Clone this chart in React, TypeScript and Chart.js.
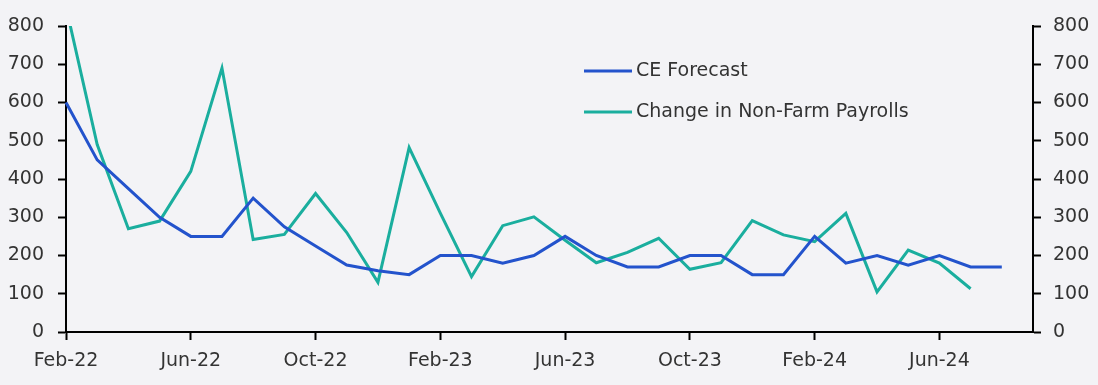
import React, { useEffect, useRef } from "react";
import { Chart, registerables } from "chart.js";

Chart.register(...registerables);

const months: string[] = [
  "Feb-22", "Mar-22", "Apr-22", "May-22", "Jun-22", "Jul-22", "Aug-22", "Sep-22",
  "Oct-22", "Nov-22", "Dec-22", "Jan-23", "Feb-23", "Mar-23", "Apr-23", "May-23",
  "Jun-23", "Jul-23", "Aug-23", "Sep-23", "Oct-23", "Nov-23", "Dec-23", "Jan-24",
  "Feb-24", "Mar-24", "Apr-24", "May-24", "Jun-24", "Jul-24", "Aug-24", "Sep-24",
];

const ceForecast: (number | null)[] = [
  600, 450, 375, 300, 250, 250, 350, 275, 225, 175, 160, 150, 200, 200, 180, 200,
  250, 200, 170, 170, 200, 200, 150, 150, 250, 180, 200, 175, 200, 170, 170, null,
];

const payrolls: (number | null)[] = [
  850, 490, 270, 290, 420, 690, 242, 255, 362, 260, 130, 482, 311, 145, 278, 301,
  240, 181, 208, 245, 164, 181, 291, 254, 236, 310, 105, 214, 180, 113, null, null,
];

const yTicks: number[] = [0, 100, 200, 300, 400, 500, 600, 700, 800];

const FONT = "'DejaVu Sans', 'Open Sans', sans-serif";
const FONT_SIZE = 19;
const BG = "#f3f3f6";
const BLUE = "#2353cc";
const TEAL = "#1aae9e";
const TEXT = "#333333";

export default function App() {
  const ref = useRef<HTMLCanvasElement | null>(null);

  useEffect(() => {
    document.body.style.margin = "0";
    document.body.style.background = BG;
    const canvas = ref.current;
    if (!canvas) return;

    const bgPlugin = {
      id: "bg",
      beforeDraw(chart: any) {
        const { ctx, width, height } = chart;
        ctx.save();
        ctx.fillStyle = BG;
        ctx.fillRect(0, 0, width, height);
        ctx.restore();
      },
    };

    const legendPlugin = {
      id: "customLegend",
      afterDraw(chart: any) {
        const { ctx } = chart;
        const rows = [71, 112];
        ctx.save();
        chart.data.datasets.forEach((ds: any, i: number) => {
          const y = rows[i];
          ctx.strokeStyle = ds.borderColor;
          ctx.lineWidth = 3;
          ctx.beginPath();
          ctx.moveTo(584, y);
          ctx.lineTo(632, y);
          ctx.stroke();
          ctx.fillStyle = TEXT;
          ctx.font = `${FONT_SIZE}px ${FONT}`;
          ctx.textBaseline = "middle";
          ctx.textAlign = "left";
          ctx.fillText(ds.label, 636, y);
        });
        ctx.restore();
      },
    };

    const yCommon = (position: "left" | "right", width: number, pad: number) => ({
      type: "linear" as const,
      position,
      min: 0,
      max: 800,
      afterBuildTicks(scale: any) {
        scale.ticks = yTicks.map((v) => ({ value: v }));
      },
      afterFit(scale: any) {
        scale.width = width;
      },
      border: { display: true, color: "#000", width: 2 },
      grid: {
        drawOnChartArea: false,
        drawTicks: true,
        tickLength: 8,
        tickWidth: 2,
        tickColor: "#000",
      },
      ticks: {
        padding: pad,
        color: TEXT,
        font: { family: FONT, size: FONT_SIZE },
      },
    });

    const chart = new Chart(canvas, {
      type: "line",
      data: {
        labels: months,
        datasets: [
          {
            label: "CE Forecast",
            data: ceForecast,
            borderColor: BLUE,
            backgroundColor: BLUE,
            borderWidth: 3,
            pointRadius: 0,
            tension: 0,
            yAxisID: "y",
          },
          {
            label: "Change in Non-Farm Payrolls",
            data: payrolls,
            borderColor: TEAL,
            backgroundColor: TEAL,
            borderWidth: 3,
            pointRadius: 0,
            tension: 0,
            yAxisID: "y",
          },
        ],
      },
      options: {
        animation: false,
        responsive: false,
        maintainAspectRatio: false,
        devicePixelRatio: 1,
        layout: { padding: { top: 26, left: 0, right: 0, bottom: 0 } },
        plugins: {
          legend: { display: false },
          tooltip: { enabled: false },
        },
        scales: {
          x: {
            type: "category",
            offset: false,
            afterFit(scale: any) {
              scale.height = 53;
            },
            border: { display: true, color: "#000", width: 2 },
            grid: {
              drawOnChartArea: false,
              drawTicks: true,
              tickLength: 8,
              tickWidth: 2,
              tickColor: (ctx: any) => (ctx.index % 4 === 0 ? "#000" : "rgba(0,0,0,0)"),
            },
            ticks: {
              autoSkip: false,
              maxRotation: 0,
              minRotation: 0,
              padding: 10,
              color: TEXT,
              font: { family: FONT, size: FONT_SIZE },
              callback: (_v: any, i: number) => (i % 4 === 0 ? months[i] : ""),
            },
          },
          y: yCommon("left", 66, 14),
          y2: yCommon("right", 65, 12),
        },
      },
      plugins: [bgPlugin, legendPlugin],
    });

    return () => chart.destroy();
  }, []);

  return (
    <div style={{ position: "fixed", left: 0, top: 0, width: 1098, height: 385 }}>
      <canvas ref={ref} width={1098} height={385} style={{ width: 1098, height: 385 }} />
    </div>
  );
}
